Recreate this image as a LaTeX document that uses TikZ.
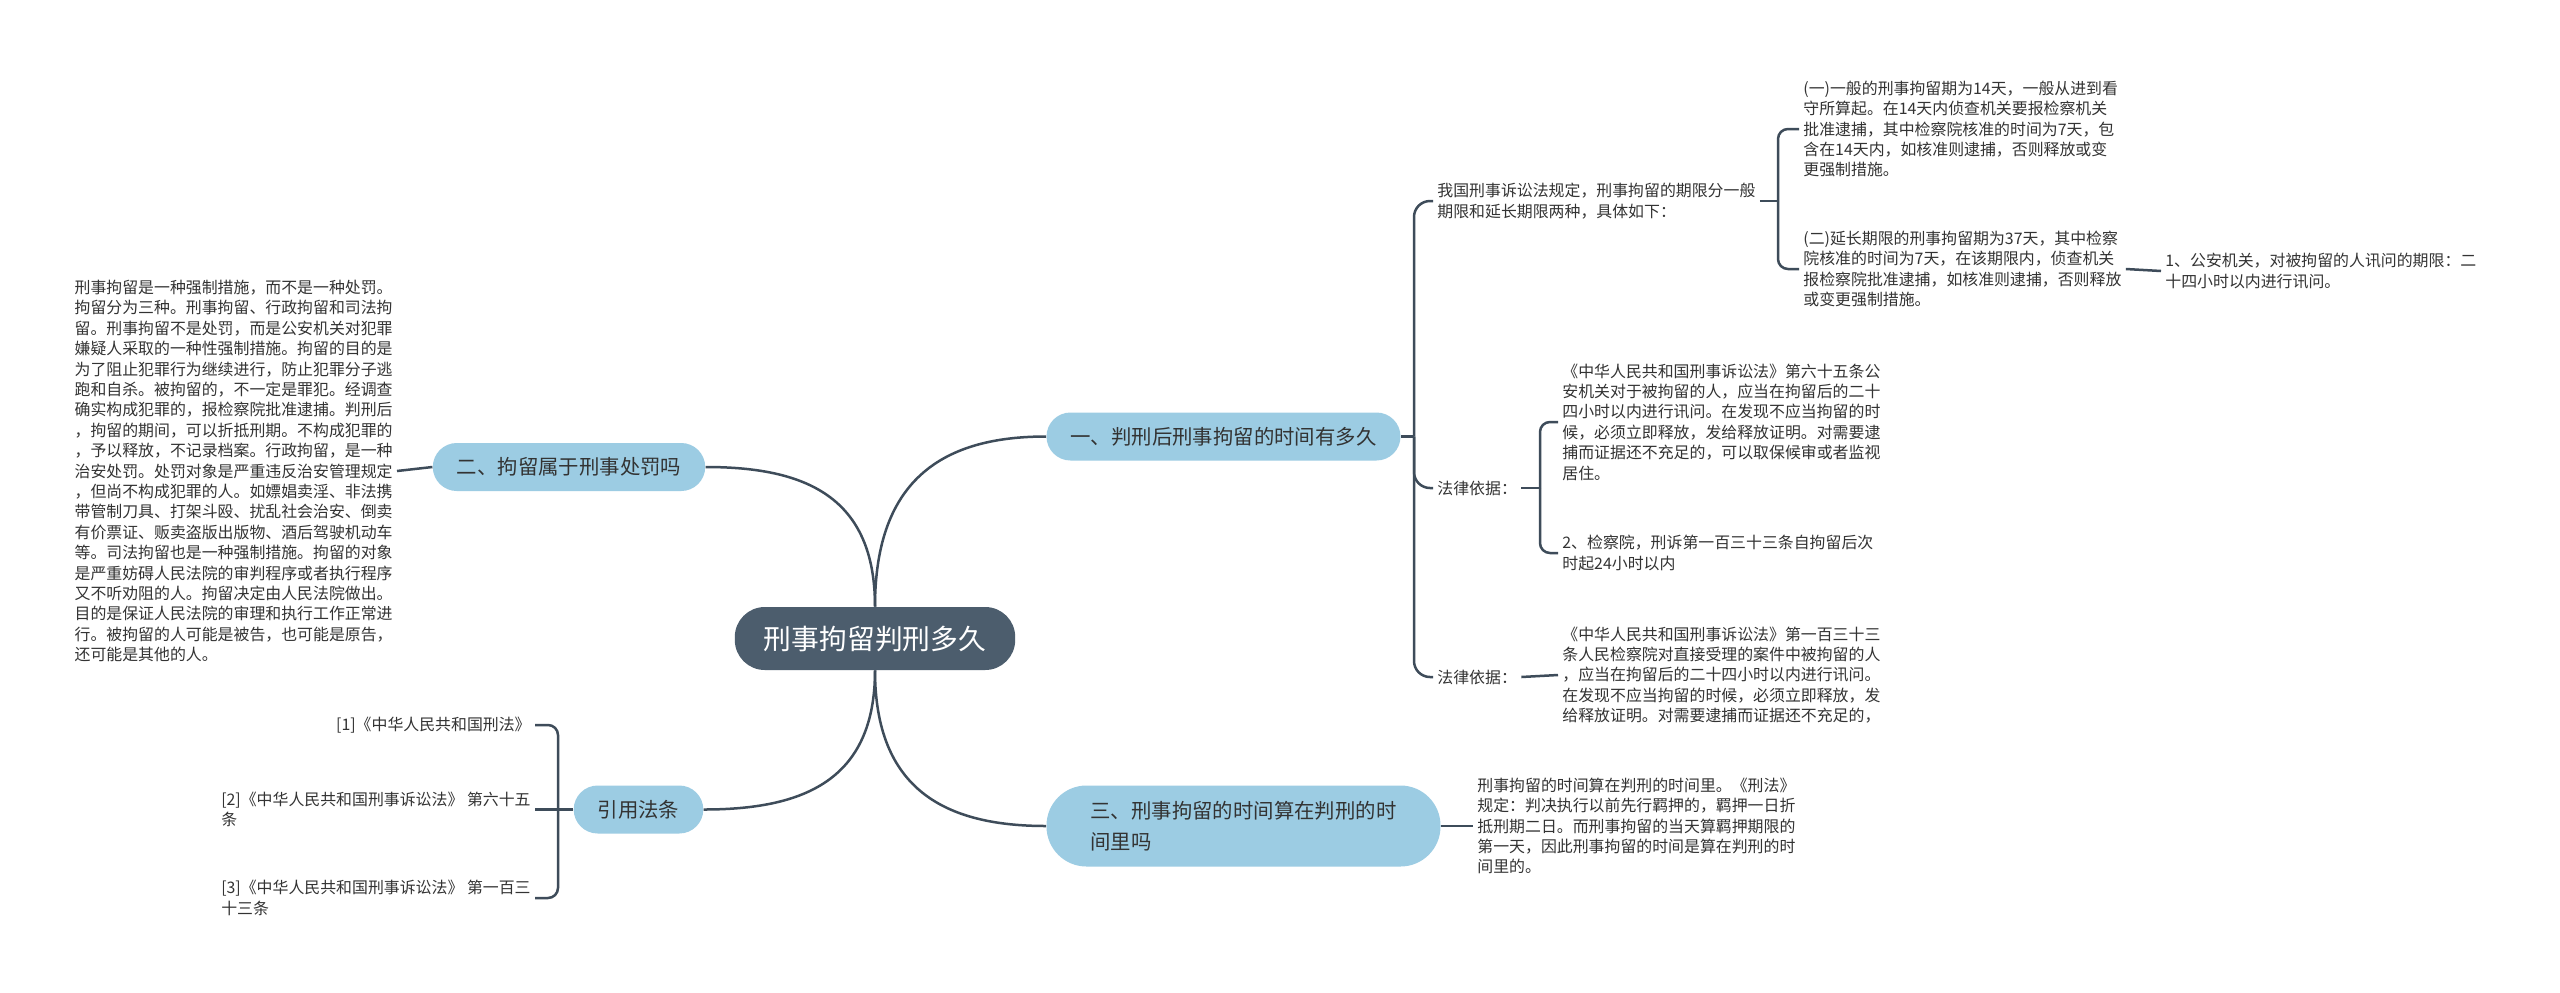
\documentclass[tikz,border=0pt]{standalone}
\usepackage{fontspec}
\setmainfont{Noto Sans CJK SC}
\definecolor{linkc}{HTML}{3E4C5A}
\definecolor{rootc}{HTML}{4C5D6D}
\definecolor{topicc}{HTML}{9CCCE3}
\definecolor{txtc}{HTML}{333333}

\begin{document}
\begin{tikzpicture}[x=0.5pt,y=-0.5pt,
    every node/.style={font=\fontsize{7.95}{10.2}\selectfont,text=txtc},
    link/.style={draw=linkc,line width=1.25pt},
    elbow/.style={link,rounded corners=5pt},
    trunk/.style={link,rounded corners=8pt},
    root/.style={fill=rootc,rounded corners=15pt,minimum height=31.5pt,inner xsep=14.5pt,text=white,font=\fontsize{13.9}{16}\selectfont},
    topic/.style={fill=topicc,rounded corners=12pt,minimum height=24pt,inner xsep=12pt,font=\fontsize{10.2}{15.5}\selectfont},
    leaf/.style={align=left,inner xsep=2pt,inner ysep=0pt}]
    \fill[white] (0,0) rectangle (2560,992);
    \useasboundingbox (0,0) rectangle (2560,992);

    \node[root] (root) at (875,638.5) {刑事拘留判刑多久};
    \node[topic] (b1) at (1223.5,436.5) {一、判刑后刑事拘留的时间有多久};
    \node[topic] (b2) at (569,467) {二、拘留属于刑事处罚吗};
    \node[topic,align=left,inner xsep=22pt,rounded corners=20pt,minimum height=40.5pt] (b3) at (1243.5,826) {三、刑事拘留的时间算在判刑的时\\间里吗};
    \node[topic] (b4) at (638.5,809.5) {引用法条};

    \node[leaf,anchor=west] (t1) at (1433,201) {我国刑事诉讼法规定，刑事拘留的期限分一般\\期限和延长期限两种，具体如下：};
    \node[leaf,anchor=west] (t11) at (1799,129) {(一)一般的刑事拘留期为14天，一般从进到看\\守所算起。在14天内侦查机关要报检察机关\\批准逮捕，其中检察院核准的时间为7天，包\\含在14天内，如核准则逮捕，否则释放或变\\更强制措施。};
    \node[leaf,anchor=west] (t12) at (1799,269) {(二)延长期限的刑事拘留期为37天，其中检察\\院核准的时间为7天，在该期限内，侦查机关\\报检察院批准逮捕，如核准则逮捕，否则释放\\或变更强制措施。};
    \node[leaf,anchor=west] (t121) at (2161,271) {1、公安机关，对被拘留的人讯问的期限：二\\十四小时以内进行讯问。};
    \node[leaf,anchor=west] (t2) at (1433,488) {法律依据：};
    \node[leaf,anchor=west] (t21) at (1558,422) {《中华人民共和国刑事诉讼法》第六十五条公\\安机关对于被拘留的人，应当在拘留后的二十\\四小时以内进行讯问。在发现不应当拘留的时\\候，必须立即释放，发给释放证明。对需要逮\\捕而证据还不充足的，可以取保候审或者监视\\居住。};
    \node[leaf,anchor=west] (t22) at (1558,553) {2、检察院，刑诉第一百三十三条自拘留后次\\时起24小时以内};
    \node[leaf,anchor=west] (t3) at (1433,677) {法律依据：};
    \node[leaf,anchor=west] (t31) at (1558,675) {《中华人民共和国刑事诉讼法》第一百三十三\\条人民检察院对直接受理的案件中被拘留的人\\，应当在拘留后的二十四小时以内进行讯问。\\在发现不应当拘留的时候，必须立即释放，发\\给释放证明。对需要逮捕而证据还不充足的，};
    \node[leaf,anchor=west] (t4) at (1473,826) {刑事拘留的时间算在判刑的时间里。《刑法》\\规定：判决执行以前先行羁押的，羁押一日折\\抵刑期二日。而刑事拘留的当天算羁押期限的\\第一天，因此刑事拘留的时间是算在判刑的时\\间里的。};
    \node[leaf,anchor=east] (t5) at (397,471) {刑事拘留是一种强制措施，而不是一种处罚。\\拘留分为三种。刑事拘留、行政拘留和司法拘\\留。刑事拘留不是处罚，而是公安机关对犯罪\\嫌疑人采取的一种性强制措施。拘留的目的是\\为了阻止犯罪行为继续进行，防止犯罪分子逃\\跑和自杀。被拘留的，不一定是罪犯。经调查\\确实构成犯罪的，报检察院批准逮捕。判刑后\\，拘留的期间，可以折抵刑期。不构成犯罪的\\，予以释放，不记录档案。行政拘留，是一种\\治安处罚。处罚对象是严重违反治安管理规定\\，但尚不构成犯罪的人。如嫖娼卖淫、非法携\\带管制刀具、打架斗殴、扰乱社会治安、倒卖\\有价票证、贩卖盗版出版物、酒后驾驶机动车\\等。司法拘留也是一种强制措施。拘留的对象\\是严重妨碍人民法院的审判程序或者执行程序\\又不听劝阻的人。拘留决定由人民法院做出。\\目的是保证人民法院的审理和执行工作正常进\\行。被拘留的人可能是被告，也可能是原告，\\还可能是其他的人。};
    \node[leaf,anchor=east] (r1) at (535,725) {[1]《中华人民共和国刑法》};
    \node[leaf,anchor=east] (r2) at (535,809.5) {[2]《中华人民共和国刑事诉讼法》 第六十五\\条};
    \node[leaf,anchor=east] (r3) at (535,898) {[3]《中华人民共和国刑事诉讼法》 第一百三\\十三条};

    \draw[link] (root.north) .. controls +(0,-130) and +(-100,0) .. (b1.west);
    \draw[link] (root.north) .. controls +(0,-110) and +(100,0) .. (b2.east);
    \draw[link] (root.south) .. controls +(0,120) and +(-100,0) .. (b3.west);
    \draw[link] (root.south) .. controls +(0,110) and +(100,0) .. (b4.east);

    \coordinate (k1) at (1414,436.5);
    \draw[link] (b1.east) -- (k1);
    \foreach \c in {t1,t2,t3}
        \draw[trunk] (k1) |- (\c.west);
    \coordinate (k11) at (1778,201);
    \draw[link] (t1.east) -- (k11);
    \draw[elbow] (k11) |- (t11.west);
    \draw[elbow] (k11) |- (t12.west);
    \draw[link] (t12.east) -- (t121.west);
    \coordinate (k2) at (1540,488);
    \draw[link] (t2.east) -- (k2);
    \draw[elbow] (k2) |- (t21.west);
    \draw[elbow] (k2) |- (t22.west);
    \draw[link] (t3.east) -- (t31.west);
    \draw[link] (b3.east) -- (t4.west);
    \draw[link] (t5.east) -- (b2.west);
    \coordinate (k4) at (558,809.5);
    \draw[link] (b4.west) -- (k4);
    \draw[elbow] (k4) |- (r1.east);
    \draw[link] (k4) -- (r2.east);
    \draw[elbow] (k4) |- (r3.east);
\end{tikzpicture}
\end{document}
